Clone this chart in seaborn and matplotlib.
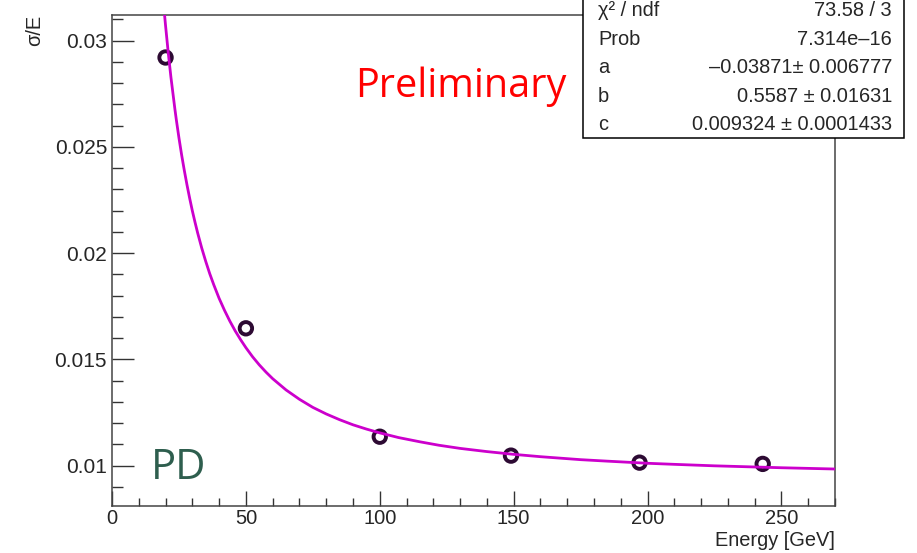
import matplotlib
matplotlib.use("Agg")
import matplotlib.pyplot as plt
from matplotlib.patches import Rectangle
from matplotlib.ticker import MultipleLocator, FuncFormatter
import seaborn as sns
import pandas as pd

# ---- data ----
energy = [20, 50, 100, 149, 197, 243]
sigma_over_e = [0.0292, 0.01646, 0.01136, 0.01047, 0.01014, 0.01008]

fit_energy = [19.5, 20, 21, 22, 23.5, 24, 25, 26, 27, 28, 29, 30, 31, 32,
              33.5, 35, 36.5, 38, 40, 42, 44, 46, 48, 50, 52.5, 55, 57.5,
              60, 65, 70, 75, 80, 85, 90, 95, 100, 107, 115, 122, 130, 140,
              150, 160, 175, 185, 200, 210, 225, 250, 270]
fit_sigma = [0.03138, 0.03070, 0.02943, 0.02828, 0.02676, 0.02629, 0.02542,
             0.02462, 0.02389, 0.02321, 0.02258, 0.02199, 0.02145, 0.02094,
             0.02024, 0.01961, 0.01903, 0.01851, 0.01787, 0.01731, 0.01680,
             0.01634, 0.01593, 0.01555, 0.01512, 0.01474, 0.01440, 0.01409,
             0.01356, 0.01312, 0.01274, 0.01243, 0.01216, 0.01192, 0.01172,
             0.01154, 0.01132, 0.01112, 0.01096, 0.01081, 0.01066, 0.01053,
             0.01042, 0.01028, 0.01021, 0.01011, 0.01006, 0.00999, 0.00990,
             0.00984]

stat_names = ["χ² / ndf", "Prob", "a", "b", "c"]
stat_values = ["73.58 / 3", "7.314e–16", "–0.03871± 0.006777",
               "0.5587 ± 0.01631", "0.009324 ± 0.0001433"]

x_label = "Energy [GeV]"
y_label = "σ/E"
x_range = (0, 270)
y_range = (0.0081, 0.0312)

points = pd.DataFrame({"E": energy, "res": sigma_over_e})
curve = pd.DataFrame({"E": fit_energy, "res": fit_sigma})

sns.set_style("white")
plt.rcParams["font.family"] = ["Liberation Sans", "DejaVu Sans"]

fig = plt.figure(figsize=(9.17, 5.53), dpi=100)
ax = fig.add_axes([112 / 917, 1 - 506 / 553, (835 - 112) / 917, (506 - 15) / 553])

sns.scatterplot(data=points, x="E", y="res", ax=ax, marker="o", s=80,
                facecolor="none", edgecolor="#2d0a33", linewidth=2.8, zorder=3,
                legend=False)
sns.lineplot(data=curve, x="E", y="res", ax=ax, color="#cc00cc", lw=2.0,
             sort=False, zorder=4, legend=False)

ax.set_xlim(*x_range)
ax.set_ylim(*y_range)
ax.xaxis.set_major_locator(MultipleLocator(50))
ax.xaxis.set_minor_locator(MultipleLocator(10))
ax.yaxis.set_major_locator(MultipleLocator(0.005))
ax.yaxis.set_minor_locator(MultipleLocator(0.001))
ax.yaxis.set_major_formatter(FuncFormatter(lambda v, p: f"{v:g}"))
ax.xaxis.set_major_formatter(FuncFormatter(lambda v, p: f"{v:g}"))

ax.tick_params(axis="y", which="major", direction="in", length=15.8, width=1,
               color="#333333", labelsize=15, pad=3.6, left=True, right=False)
ax.tick_params(axis="y", which="minor", direction="in", length=7.9, width=1,
               color="#333333", left=True, right=False)
ax.tick_params(axis="x", which="major", direction="in", length=10.8, width=1,
               color="#333333", labelsize=14.5, pad=2.5, bottom=True, top=False)
ax.tick_params(axis="x", which="minor", direction="in", length=5.8, width=1,
               color="#333333", bottom=True, top=False)

for sp in ax.spines.values():
    sp.set_visible(True)
    sp.set_color("#444444")
    sp.set_linewidth(1.1)

ax.set_xlabel(x_label, fontsize=14.4, loc="right")
ax.xaxis.set_label_coords(1.0, -0.051)
ax.set_ylabel(y_label, fontsize=14.4, loc="top")
ax.yaxis.set_label_coords(-0.094, 1.0)

# annotations
ax.text(355 / 917, 1 - 97 / 553, "Preliminary", transform=fig.transFigure,
        color="#ff0000", fontsize=28.5, family=["Open Sans", "DejaVu Sans"],
        ha="left", va="baseline")
ax.text(151 / 917, 1 - 479 / 553, "PD", transform=fig.transFigure,
        color="#2e5e4e", fontsize=30, family=["Open Sans", "DejaVu Sans"],
        ha="left", va="baseline")
# bottoms of the cut-off title brackets
for xp, ch in [(202, "("), (393, ")")]:
    fig.text(xp / 917, 1 - 4 / 553, ch, color="#2e5e4e", fontsize=29,
             family=["Open Sans", "DejaVu Sans"], ha="center", va="bottom")

# stats box
box = Rectangle((582.7 / 917, 1 - 138 / 553), (904 - 582.7) / 917, 170 / 553,
                transform=fig.transFigure, facecolor="white", edgecolor="black",
                linewidth=1.1, zorder=10)
fig.add_artist(box)
base = 16.5
for i, (nm, val) in enumerate(zip(stat_names, stat_values)):
    yb = 1 - (base + 28.4 * i) / 553
    fig.text(598 / 917, yb, nm, fontsize=14.4, ha="left", va="baseline", zorder=11)
    fig.text(892 / 917, yb, val, fontsize=14.4, ha="right", va="baseline", zorder=11)

fig.savefig("out.png", dpi=100)
